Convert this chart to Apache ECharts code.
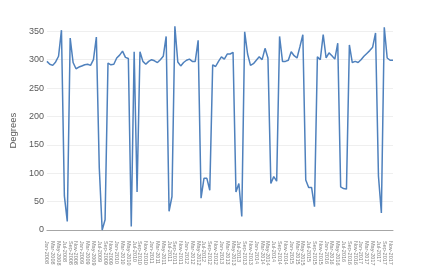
<!DOCTYPE html>
<html>
<head>
<meta charset="utf-8">
<script src="https://cdn.jsdelivr.net/npm/echarts@6/dist/echarts.min.js"></script>
<style>
html,body{margin:0;padding:0;background:#fff;}
#chart{width:423px;height:272px;}
</style>
</head>
<body>
<div id="chart"></div>
<script>
const months = ["Jan","Feb","Mar","Apr","May","Jun","Jul","Aug","Sep","Oct","Nov","Dec"];
const years = [2008,2009,2010,2011,2012,2013,2014,2015,2016,2017];
const categories = [];
years.forEach(y => months.forEach(m => categories.push(m + "-" + y)));

const degrees = [
  297,292,290,296,306,352,60,15,338,295,284,287,
  289,291,292,290,300,340,110,0,18,294,291,292,
  303,308,315,304,302,6,314,67,314,297,292,297,
  300,298,295,300,306,341,33,59,359,296,289,295,
  299,301,297,297,334,56,91,91,70,291,288,297,
  305,301,310,310,313,67,82,24,349,310,290,293,
  299,305,300,320,303,82,94,86,341,297,297,299,
  314,307,303,323,344,88,75,75,41,305,300,344,
  303,312,307,301,329,76,73,72,326,295,297,295,
  300,306,311,316,322,347,95,30,357,303,299,299
];
const yTicks = [0,50,100,150,200,250,300,350];
const yTitle = "Degrees";

const chart = echarts.init(document.getElementById('chart'), null, {renderer:'canvas'});
chart.setOption({
  animation: false,
  backgroundColor: '#ffffff',
  grid: {left: 29.5, right: 30, top: 31.3, bottom: 42, containLabel: false},
  xAxis: {
    type: 'category',
    data: categories,
    boundaryGap: false,
    axisLine: {show: true, lineStyle: {color: '#a6a6a6', width: 1}},
    axisTick: {show: false},
    axisLabel: {interval: 1, rotate: -90, fontSize: 5.5, color: '#7f7f7f', margin: 11, fontFamily: 'Liberation Sans'},
    splitLine: {show: false}
  },
  yAxis: {
    type: 'value',
    min: yTicks[0],
    max: yTicks[yTicks.length-1],
    interval: 50,
    name: yTitle,
    nameLocation: 'middle',
    nameRotate: 90,
    nameGap: 24,
    nameTextStyle: {fontSize: 9.5, color: '#595959', fontFamily: 'Liberation Sans'},
    axisLine: {show: false},
    axisTick: {show: false},
    axisLabel: {fontSize: 9, color: '#595959', margin: 3, fontFamily: 'Liberation Sans'},
    splitLine: {show: true, lineStyle: {color: '#efefef', width: 1}}
  },
  series: [{
    type: 'line',
    data: degrees,
    symbol: 'none',
    clip: false,
    lineStyle: {color: '#4f81bd', width: 1.5}
  }]
});
</script>
</body>
</html>
